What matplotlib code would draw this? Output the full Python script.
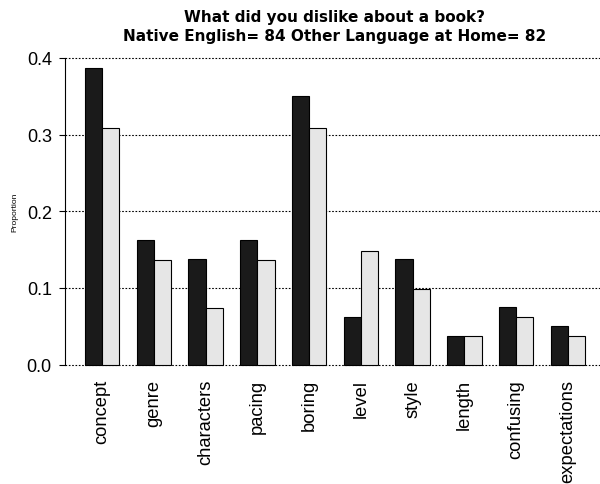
import matplotlib
matplotlib.use("Agg")
import matplotlib.pyplot as plt
import numpy as np

CATEGORIES = ["concept", "genre", "characters", "pacing", "boring",
              "level", "style", "length", "confusing", "expectations"]
NATIVE_ENGLISH = [0.3875, 0.1625, 0.1375, 0.1625, 0.35,
                  0.0625, 0.1375, 0.0375, 0.075, 0.05]
OTHER_LANGUAGE = [0.309, 0.136, 0.074, 0.136, 0.309,
                  0.148, 0.099, 0.037, 0.062, 0.037]
Y_TICKS = [0.0, 0.1, 0.2, 0.3, 0.4]
TITLE = "What did you dislike about a book?\nNative English= 84 Other Language at Home= 82"

plt.rcParams["font.family"] = ["Liberation Sans", "DejaVu Sans"]

fig = plt.figure(figsize=(6, 4.85), dpi=100)
ax = fig.add_axes([65 / 600, 1 - 377.8 / 485, 540 / 600, 331.1 / 485])

n = len(CATEGORIES)
group_left = 1 + 3 * np.arange(n)
ax.bar(group_left, NATIVE_ENGLISH, width=1, align="edge",
       color="#1a1a1a", edgecolor="black", linewidth=0.8, zorder=3)
ax.bar(group_left + 1, OTHER_LANGUAGE, width=1, align="edge",
       color="#e6e6e6", edgecolor="black", linewidth=0.8, zorder=3)

# dotted reference lines across the plot, behind the bars
for y in Y_TICKS:
    ax.axhline(y, color="black", linestyle=(0, (1.5, 1.5)), linewidth=0.8, zorder=1)

ax.set_xlim(1 - 1.16, 30 + 1.16)
ax.set_ylim(-0.016, 0.416)
for side in ["top", "right", "bottom"]:
    ax.spines[side].set_visible(False)
ax.spines["left"].set_bounds(0, 0.4)
ax.spines["left"].set_linewidth(0.8)

ax.set_yticks(Y_TICKS)
ax.set_yticklabels([f"{v:.1f}" for v in Y_TICKS], fontsize=13)
ax.tick_params(axis="y", length=4.5, width=0.8, pad=5)

ax.set_xticks(group_left + 1)
ax.set_xticklabels(CATEGORIES, rotation=90, fontsize=13.2)
ax.tick_params(axis="x", length=0, pad=1.5)

fig.text(15 / 600, 1 - 212 / 485, "Proportion", rotation=90, fontsize=6,
         ha="center", va="center")
fig.text(335 / 600, 1 - 10 / 485, TITLE, ha="center", va="top",
         fontsize=11, fontweight="bold", linespacing=1.35,
         family=["DejaVu Sans"])

fig.savefig("out.png", dpi=100)
